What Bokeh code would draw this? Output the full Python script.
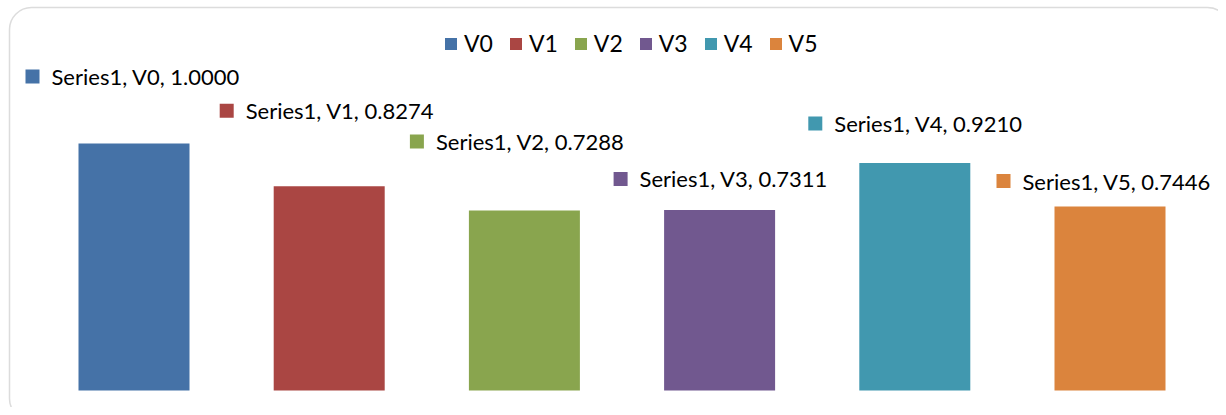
from bokeh.plotting import figure
from bokeh.models import Range1d, Legend, LegendItem, BoxAnnotation, ColumnDataSource
from bokeh.embed import file_html
from bokeh.resources import INLINE
from bokeh.core.properties import value

# ---- data ----
categories = ["V0", "V1", "V2", "V3", "V4", "V5"]
values = [1.0000, 0.8274, 0.7288, 0.7311, 0.9210, 0.7446]
series_name = "Series1"

# ---- styles ----
colors = ["#4572A7", "#AA4643", "#89A54E", "#71588F", "#4198AF", "#DB843D"]
label_lift_px = [67, 75.5, 69, 31, 39.5, 25.5]          # label centre above bar top
label_key_left_px = [-108.5, -109.5, -114.5, -106, -106.5, -113.5]  # key left vs bar centre
KEY = 14
FONT = "Lato"
LABEL_SIZE = "22px"
LEGEND_SIZE = "23px"

W, H = 1218, 407
PX_PER_X = 195.2
PX_PER_Y = 247.0
x0 = -133.5 / PX_PER_X
x1 = x0 + W / PX_PER_X
y0 = -(H - 390) / PX_PER_Y
y1 = 390 / PX_PER_Y
sx = W / (x1 - x0)
sy = H / (y1 - y0)

xs = list(range(len(categories)))
labels = [f"{series_name}, {c}, {v:.4f}" for c, v in zip(categories, values)]

p = figure(width=W, height=H, x_range=Range1d(x0, x1), y_range=Range1d(y0, y1),
           output_backend="svg", toolbar_location=None, min_border=0)
p.axis.visible = False
p.grid.visible = False
p.outline_line_color = None
p.background_fill_color = "white"
p.border_fill_color = "white"

# rounded frame
frame = BoxAnnotation(left=9, right=1229, top=7, bottom=420,
                      left_units="canvas", right_units="canvas",
                      top_units="canvas", bottom_units="canvas",
                      fill_alpha=0, line_color="#8c8c8c", line_width=1.5,
                      border_radius=22)
p.add_layout(frame)

items = []
for i in range(len(categories)):
    r = p.vbar(x=[xs[i]], top=[values[i]], bottom=0, width=111 / sx,
               fill_color=colors[i], line_color=None)
    items.append(LegendItem(label=categories[i], renderers=[r]))

# data labels with key squares
key_x = [x + (kl + KEY / 2) / sx for x, kl in zip(xs, label_key_left_px)]
txt_x = [x + (kl + 26) / sx for x, kl in zip(xs, label_key_left_px)]
lab_y = [v + lift / sy for v, lift in zip(values, label_lift_px)]
lab_src = ColumnDataSource(dict(kx=key_x, tx=txt_x, y=lab_y, text=labels, color=colors))
p.scatter(x="kx", y="y", marker="square", size=KEY, fill_color="color",
          line_color=None, source=lab_src)
p.text(x="tx", y="y", text="text", source=lab_src, text_font=value(FONT),
       text_font_size=LABEL_SIZE, text_baseline="middle", text_align="left",
       text_color="#000000")

legend = Legend(items=items, orientation="horizontal", location=(443, 350),
                glyph_width=15, glyph_height=15, label_standoff=6, spacing=15,
                padding=0, margin=0, border_line_color=None,
                background_fill_alpha=0, label_text_font=FONT,
                label_text_font_size=LEGEND_SIZE, label_text_color="#000000")
p.add_layout(legend, "center")

open("out.html", "w").write(file_html(p, INLINE))
